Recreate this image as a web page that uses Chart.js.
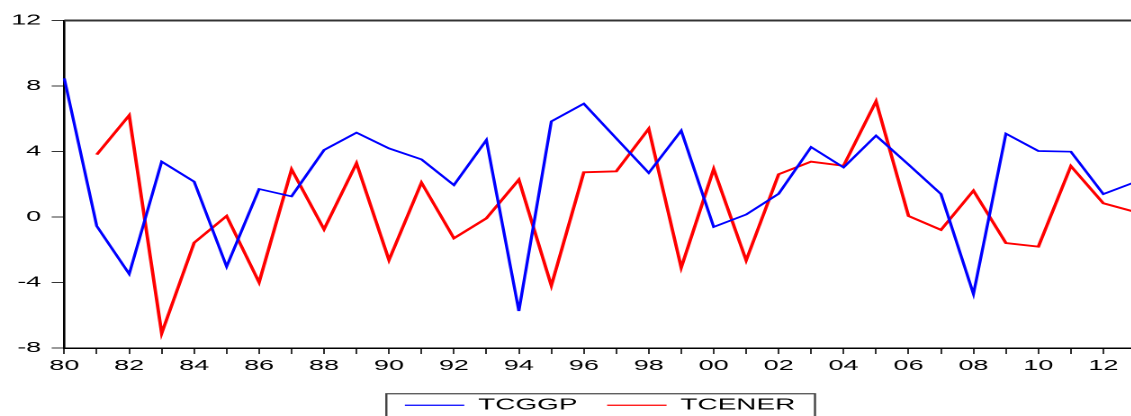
<!DOCTYPE html>
<html>
<head>
<meta charset="utf-8">
<script src="https://cdn.jsdelivr.net/npm/chart.js@4.4.1/dist/chart.umd.min.js"></script>
<style>
  html, body { margin: 0; padding: 0; background: #fff; overflow: hidden; }
  #wrap { position: relative; width: 1131px; height: 416px; overflow: hidden; background: #fff; }
  #c { position: absolute; left: 0; top: 0; transform: scaleX(1.8); transform-origin: 0 0; }
</style>
</head>
<body>
<div id="wrap"><canvas id="c" width="634" height="423"></canvas></div>
<script>
const years = [1980,1981,1982,1983,1984,1985,1986,1987,1988,1989,1990,1991,1992,1993,1994,1995,1996,1997,1998,1999,2000,2001,2002,2003,2004,2005,2006,2007,2008,2009,2010,2011,2012,2013];
const tcggp = [8.47,-0.55,-3.48,3.38,2.16,-3.03,1.71,1.26,4.09,5.15,4.19,3.52,1.95,4.70,-5.74,5.84,6.92,4.80,2.69,5.27,-0.61,0.15,1.42,4.27,3.03,4.97,3.20,1.40,-4.70,5.09,4.03,3.99,1.40,2.15];
const tcener = [null,3.81,6.21,-7.10,-1.57,0.06,-3.99,2.91,-0.75,3.28,-2.63,2.10,-1.30,-0.08,2.28,-4.19,2.73,2.79,5.39,-3.09,2.93,-2.65,2.61,3.38,3.13,7.07,0.06,-0.79,1.61,-1.59,-1.81,3.11,0.84,0.30];
const xTickLabels = years.map(y => (y % 2 === 0 ? String(y).slice(2) : ''));
const yTicks = [-8, -4, 0, 4, 8, 12];
const seriesNames = ['TCGGP', 'TCENER'];
const seriesColors = ['#0000FF', '#FF0000'];

Chart.defaults.color = '#000';
Chart.defaults.font.family = '"Liberation Sans", Arial, sans-serif';

const framePlugin = {
  id: 'frame',
  afterDraw(chart) {
    const ctx = chart.ctx;
    const a = chart.chartArea;
    ctx.save();
    ctx.strokeStyle = '#333';
    ctx.lineWidth = 2;
    ctx.beginPath();
    ctx.moveTo(a.left, a.top);
    ctx.lineTo(chart.width, a.top);
    ctx.stroke();
    const lg = chart.legend;
    if (lg && lg.legendHitBoxes && lg.legendHitBoxes.length) {
      const hb = lg.legendHitBoxes;
      const first = hb[0], last = hb[hb.length - 1];
      const cy = first.top + first.height / 2;
      const left = first.left - 10.3;
      const right = last.left + last.width + 11;
      ctx.strokeStyle = '#444';
      ctx.lineWidth = 1.2;
      ctx.strokeRect(left, cy - 11.5, right - left, 60);
    }
    ctx.restore();
  }
};

new Chart(document.getElementById('c'), {
  type: 'line',
  data: {
    labels: years,
    datasets: [
      { label: seriesNames[0], data: tcggp, borderColor: seriesColors[0], backgroundColor: seriesColors[0], borderWidth: 1.7, pointRadius: 0, tension: 0, spanGaps: false },
      { label: seriesNames[1], data: tcener, borderColor: seriesColors[1], backgroundColor: seriesColors[1], borderWidth: 1.9, pointRadius: 0, tension: 0, spanGaps: false }
    ]
  },
  options: {
    responsive: false,
    animation: false,
    devicePixelRatio: 2,
    layout: { padding: { left: 0, right: 1.8, top: 20.5, bottom: 0 } },
    plugins: {
      tooltip: { enabled: false },
      legend: {
        position: 'bottom',
        fullSize: false,
        labels: {
          boxWidth: 33,
          boxHeight: 1.3,
          padding: 16.5,
          font: { size: 15.5 },
          color: '#000',
          generateLabels(chart) {
            return chart.data.datasets.map((ds, i) => ({
              text: ds.label,
              fillStyle: ds.borderColor,
              strokeStyle: ds.borderColor,
              lineWidth: 0,
              hidden: false,
              datasetIndex: i
            }));
          }
        }
      }
    },
    scales: {
      x: {
        type: 'category',
        offset: false,
        afterFit(scale) { scale.height = 33; },
        grid: { drawOnChartArea: false, drawTicks: true, tickLength: 6, color: '#000', lineWidth: 0.8 },
        border: { display: true, color: '#000', width: 1.5 },
        ticks: {
          autoSkip: false,
          maxRotation: 0,
          minRotation: 0,
          padding: 3,
          font: { size: 15 },
          color: '#000',
          callback(value, index) { return xTickLabels[index]; }
        }
      },
      y: {
        min: yTicks[0],
        max: yTicks[yTicks.length - 1],
        afterFit(scale) { scale.width = 35.7; },
        afterBuildTicks(scale) { scale.ticks = yTicks.map(v => ({ value: v })); },
        grid: { drawOnChartArea: false, drawTicks: true, tickLength: 7, color: '#000', lineWidth: 0.8 },
        border: { display: true, color: '#000', width: 1.3 },
        ticks: {
          padding: 5.8,
          font: { size: 15 },
          color: '#000',
          callback(value) { return String(value); }
        }
      }
    }
  },
  plugins: [framePlugin]
});
</script>
</body>
</html>
